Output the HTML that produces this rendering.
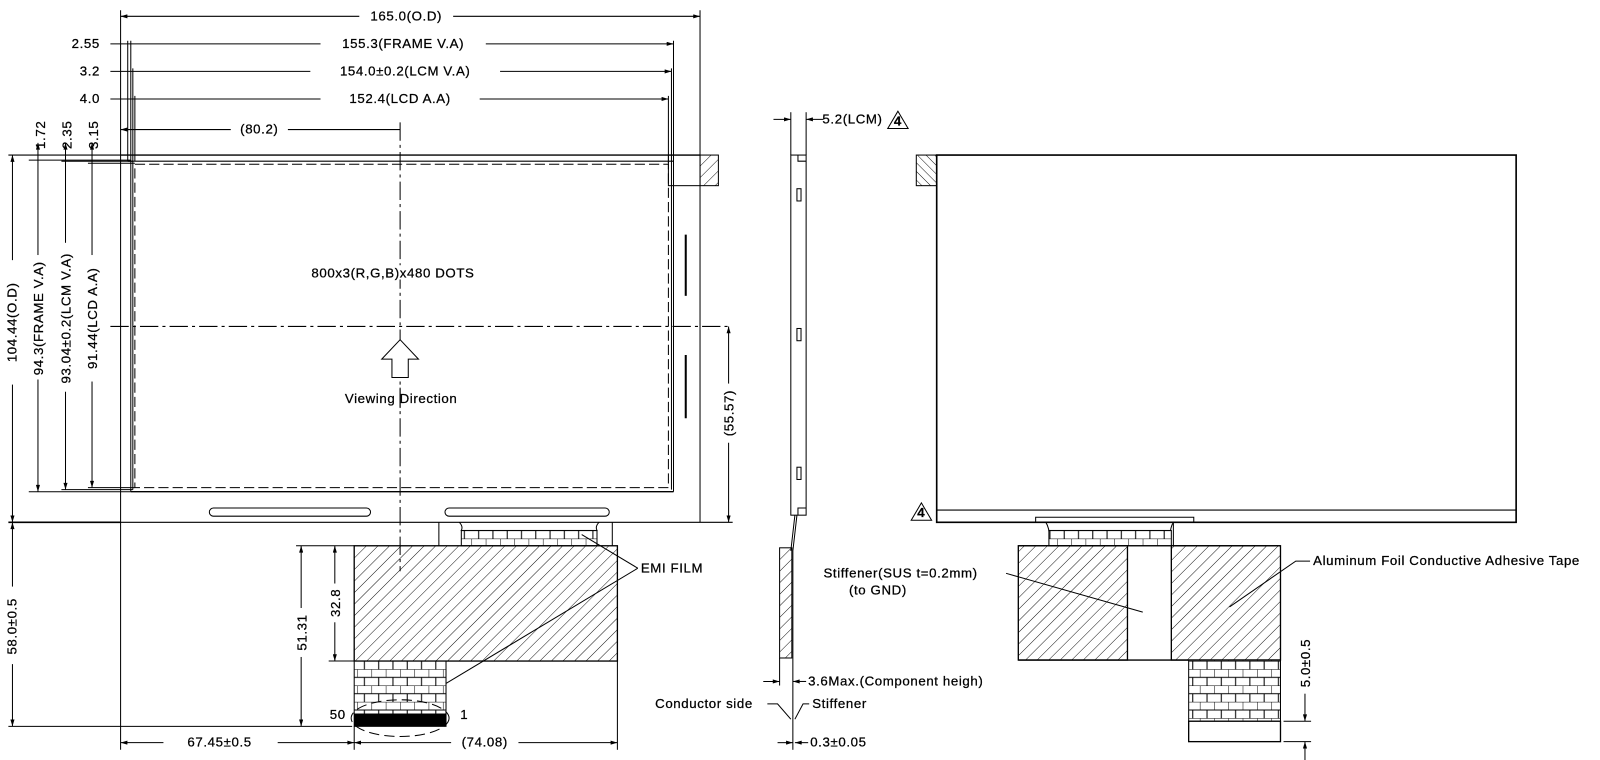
<!DOCTYPE html>
<html><head><meta charset="utf-8"><style>
html,body{margin:0;padding:0;background:#fff;}
svg{display:block}
text{font-family:"Liberation Sans",sans-serif;font-size:13px;fill:#000;letter-spacing:0.6px;stroke:#000;stroke-width:0.25px;}
</style></head><body>
<svg width="1600" height="760" viewBox="0 0 1568 745" xmlns="http://www.w3.org/2000/svg">
<defs>
<pattern id="h1" patternUnits="userSpaceOnUse" width="8" height="8" patternTransform="rotate(45)"><line x1="0" y1="0" x2="0" y2="8" stroke="#000" stroke-width="0.9"/></pattern>
<pattern id="h2" patternUnits="userSpaceOnUse" width="6" height="6" patternTransform="rotate(-45)"><line x1="0" y1="0" x2="0" y2="6" stroke="#000" stroke-width="0.9"/></pattern>
<pattern id="br" patternUnits="userSpaceOnUse" width="14" height="16"><rect width="14" height="16" fill="#fff"/><path d="M0 0H14M0 8H14M0 0V8M7 8V16" stroke="#000" stroke-width="1" fill="none"/></pattern>
<marker id="a" viewBox="0 0 10 6" refX="10" refY="3" markerWidth="8" markerHeight="4" orient="auto-start-reverse"><path d="M0 0L10 3L0 6z" fill="#000"/></marker>
</defs>
<g stroke="#000" fill="none" stroke-width="1">
<line x1="118" y1="16" x2="686" y2="16" marker-start="url(#a)" marker-end="url(#a)"/>
<line x1="118" y1="10" x2="118" y2="735"/>
<line x1="686" y1="10" x2="686" y2="512"/>
<line x1="108" y1="43" x2="660" y2="43" marker-end="url(#a)"/>
<line x1="108" y1="70" x2="658" y2="70" marker-end="url(#a)"/>
<line x1="108" y1="97" x2="655" y2="97" marker-end="url(#a)"/>
<line x1="118" y1="127" x2="392" y2="127" marker-start="url(#a)"/>
<line x1="125" y1="40" x2="125" y2="158"/>
<line x1="128" y1="40" x2="128" y2="482"/>
<line x1="130" y1="67" x2="130" y2="480"/>
<line x1="132" y1="94" x2="132" y2="158"/>
<line x1="660" y1="40" x2="660" y2="482"/>
<line x1="658" y1="67" x2="658" y2="480"/>
<line x1="655" y1="94" x2="655" y2="160"/>
<line x1="8" y1="152" x2="118" y2="152"/>
<line x1="8" y1="512" x2="118" y2="512" stroke-width="1.5"/>
<line x1="8" y1="712" x2="345" y2="712"/>
<line x1="12" y1="152" x2="12" y2="512" marker-start="url(#a)" marker-end="url(#a)"/>
<line x1="12" y1="512" x2="12" y2="712" marker-start="url(#a)" marker-end="url(#a)"/>
<line x1="37" y1="140" x2="37" y2="482" marker-start="url(#a)" marker-end="url(#a)"/>
<line x1="64" y1="140" x2="64" y2="480" marker-start="url(#a)" marker-end="url(#a)"/>
<line x1="90" y1="140" x2="90" y2="478" marker-start="url(#a)" marker-end="url(#a)"/>
<line x1="28" y1="157" x2="128" y2="157"/>
<line x1="28" y1="482" x2="128" y2="482"/>
<line x1="60" y1="158" x2="130" y2="158"/>
<line x1="60" y1="480" x2="130" y2="480"/>
<line x1="86" y1="160" x2="132" y2="160"/>
<line x1="86" y1="478" x2="132" y2="478"/>
<line x1="118" y1="152" x2="686" y2="152" stroke-width="1.4"/>
<line x1="125" y1="158" x2="660" y2="158"/>
<line x1="128" y1="482" x2="660" y2="482" stroke-width="1.4"/>
<line x1="118" y1="512" x2="686" y2="512"/>
<rect x="132" y="161" width="523" height="317" stroke-dasharray="10,4"/>
<rect x="655" y="152" width="31" height="30"/>
<rect x="686" y="152" width="18" height="30" fill="url(#h1)"/>
<line x1="672" y1="230" x2="672" y2="290" stroke-width="2"/>
<line x1="672" y1="348" x2="672" y2="410" stroke-width="2"/>
<rect x="205" y="498" width="158" height="8" rx="4"/>
<rect x="436" y="498" width="161" height="8" rx="4"/>
<line x1="392" y1="120" x2="392" y2="560" stroke-dasharray="18,4,3,4"/>
<line x1="108" y1="320" x2="715" y2="320" stroke-dasharray="18,4,3,4"/>
<line x1="714" y1="320" x2="714" y2="512" marker-start="url(#a)" marker-end="url(#a)"/>
<line x1="686" y1="512" x2="718" y2="512"/>
<path d="M392 333L410 352H400V370H384V352H374Z" fill="#fff"/>
<line x1="430" y1="512" x2="430" y2="535"/>
<line x1="600" y1="512" x2="600" y2="535"/>
<path d="M450 512Q454 516 452 520H585Q583 516 587 512"/>
<rect x="452" y="520" width="133" height="15" fill="url(#br)"/>
<rect x="347" y="535" width="258" height="113" fill="url(#h1)" stroke-width="1.3"/>
<rect x="347" y="648" width="90" height="52" fill="url(#br)"/>
<rect x="347" y="700" width="90" height="12" fill="#000"/>
<ellipse cx="392" cy="704" rx="48" ry="18" stroke-dasharray="10,5"/>
<line x1="605" y1="648" x2="605" y2="735"/>
<line x1="290" y1="535" x2="347" y2="535"/>
<line x1="295" y1="535" x2="295" y2="712" marker-start="url(#a)" marker-end="url(#a)"/>
<line x1="328" y1="535" x2="328" y2="648" marker-start="url(#a)" marker-end="url(#a)"/>
<line x1="322" y1="648" x2="347" y2="648"/>
<line x1="118" y1="728" x2="347" y2="728" marker-start="url(#a)" marker-end="url(#a)"/>
<line x1="347" y1="728" x2="605" y2="728" marker-start="url(#a)" marker-end="url(#a)"/>
<line x1="347" y1="712" x2="347" y2="735"/>
<line x1="570" y1="524" x2="625" y2="557"/>
<line x1="437" y1="670" x2="625" y2="557"/>
<line x1="775" y1="110" x2="775" y2="152"/>
<line x1="790" y1="110" x2="790" y2="152"/>
<line x1="758" y1="117" x2="775" y2="117" marker-end="url(#a)"/>
<line x1="807" y1="117" x2="790" y2="117" marker-end="url(#a)"/>
<rect x="775" y="152" width="15" height="353"/>
<path d="M782 152V158H790M782 505V498H790"/>
<rect x="781" y="185" width="4" height="12"/>
<rect x="781" y="322" width="4" height="12"/>
<rect x="781" y="458" width="4" height="12"/>
<path d="M880 109L870 126H890Z"/>
<path d="M781 505L777 540V700M779 505L775 540"/>
<rect x="764" y="537" width="12" height="108" fill="url(#h1)"/>
<line x1="764" y1="645" x2="764" y2="672"/>
<line x1="748" y1="668" x2="764" y2="668" marker-end="url(#a)"/>
<line x1="790" y1="668" x2="777" y2="668" marker-end="url(#a)"/>
<line x1="777" y1="700" x2="777" y2="735"/>
<line x1="762" y1="728" x2="777" y2="728" marker-end="url(#a)"/>
<line x1="792" y1="728" x2="779" y2="728" marker-end="url(#a)"/>
<path d="M752 690H762L775 705"/>
<path d="M793 690H787L779 705"/>
<rect x="918" y="152" width="568" height="360" stroke-width="1.6"/>
<line x1="918" y1="500" x2="1486" y2="500"/>
<rect x="898" y="152" width="20" height="30" fill="url(#h2)"/>
<path d="M903 493L893 510H913Z"/>
<path d="M1015 512V507H1170V512M1150 512V535"/>
<path d="M1025 512Q1030 520 1028 535M1150 512Q1145 520 1148 535"/>
<rect x="1028" y="520" width="120" height="15" fill="url(#br)"/>
<rect x="998" y="535" width="107" height="112" fill="url(#h1)" stroke-width="1.3"/>
<rect x="1148" y="535" width="107" height="112" fill="url(#h1)" stroke-width="1.3"/>
<line x1="998" y1="535" x2="1255" y2="535" stroke-width="1.3"/>
<line x1="998" y1="647" x2="1255" y2="647" stroke-width="1.3"/>
<rect x="1165" y="647" width="90" height="60" fill="url(#br)"/>
<rect x="1165" y="707" width="90" height="20" fill="#fff" stroke-width="1.3"/>
<line x1="1258" y1="707" x2="1285" y2="707"/>
<line x1="1258" y1="727" x2="1285" y2="727"/>
<line x1="1279" y1="630" x2="1279" y2="707" marker-end="url(#a)"/>
<line x1="1279" y1="745" x2="1279" y2="727" marker-end="url(#a)"/>
<line x1="986" y1="562" x2="1120" y2="600"/>
<path d="M1284 550H1270L1205 595"/>
</g>
<text x="70" y="47">2.55</text>
<text x="78" y="74">3.2</text>
<text x="78" y="101">4.0</text>
<rect x="314" y="33" width="162" height="16" fill="#fff"/>
<text x="395" y="47" text-anchor="middle">155.3(FRAME V.A)</text>
<rect x="304" y="61" width="186" height="16" fill="#fff"/>
<text x="397" y="74" text-anchor="middle">154.0±0.2(LCM V.A)</text>
<rect x="314" y="88" width="156" height="16" fill="#fff"/>
<text x="392" y="101" text-anchor="middle">152.4(LCD A.A)</text>
<rect x="226" y="118" width="56" height="16" fill="#fff"/>
<text x="254" y="131" text-anchor="middle">(80.2)</text>
<rect x="352" y="9" width="92" height="15" fill="#fff"/>
<text x="398" y="20" text-anchor="middle">165.0(O.D)</text>
<rect x="5" y="255" width="14" height="122" fill="#fff"/>
<text transform="translate(16,316) rotate(-90)" text-anchor="middle">104.44(O.D)</text>
<rect x="30" y="250" width="14" height="122" fill="#fff"/>
<text transform="translate(42,312) rotate(-90)" text-anchor="middle">94.3(FRAME V.A)</text>
<rect x="57" y="238" width="14" height="146" fill="#fff"/>
<text transform="translate(69,312) rotate(-90)" text-anchor="middle">93.04±0.2(LCM V.A)</text>
<rect x="83" y="250" width="14" height="124" fill="#fff"/>
<text transform="translate(95,312) rotate(-90)" text-anchor="middle">91.44(LCD A.A)</text>
<text transform="translate(44,146) rotate(-90)">1.72</text>
<text transform="translate(70,146) rotate(-90)">2.35</text>
<text transform="translate(96,146) rotate(-90)">3.15</text>
<rect x="5" y="575" width="14" height="76" fill="#fff"/>
<text transform="translate(16,614) rotate(-90)" text-anchor="middle">58.0±0.5</text>
<rect x="707" y="376" width="14" height="58" fill="#fff"/>
<text transform="translate(719,405) rotate(-90)" text-anchor="middle">(55.57)</text>
<rect x="288" y="596" width="14" height="48" fill="#fff"/>
<text transform="translate(300,620) rotate(-90)" text-anchor="middle">51.31</text>
<rect x="321" y="572" width="14" height="38" fill="#fff"/>
<text transform="translate(333,591) rotate(-90)" text-anchor="middle">32.8</text>
<rect x="1272" y="620" width="14" height="60" fill="#fff"/>
<text transform="translate(1284,650) rotate(-90)" text-anchor="middle">5.0±0.5</text>
<rect x="300" y="260" width="170" height="14" fill="#fff"/>
<text x="385" y="272" text-anchor="middle">800x3(R,G,B)x480  DOTS</text>
<text x="393" y="395" text-anchor="middle">Viewing  Direction</text>
<line x1="392" y1="380" x2="392" y2="400" stroke="#000"/>
<text x="628" y="561">EMI  FILM</text>
<text x="323" y="705">50</text>
<text x="451" y="705">1</text>
<rect x="160" y="720" width="112" height="15" fill="#fff"/>
<text x="215" y="732" text-anchor="middle">67.45±0.5</text>
<rect x="442" y="720" width="66" height="15" fill="#fff"/>
<text x="475" y="732" text-anchor="middle">(74.08)</text>
<text x="806" y="121">5.2(LCM)</text>
<text x="876" y="123" font-size="10" font-weight="bold">4</text>
<text x="899" y="507" font-size="10" font-weight="bold">4</text>
<text x="792" y="672">3.6Max.(Component heigh)</text>
<text x="642" y="694">Conductor  side</text>
<text x="796" y="694">Stiffener</text>
<text x="794" y="732">0.3±0.05</text>
<text x="807" y="566">Stiffener(SUS  t=0.2mm)</text>
<text x="832" y="583">(to  GND)</text>
<text x="1287" y="554">Aluminum  Foil  Conductive  Adhesive  Tape</text>
</svg>
</body></html>
